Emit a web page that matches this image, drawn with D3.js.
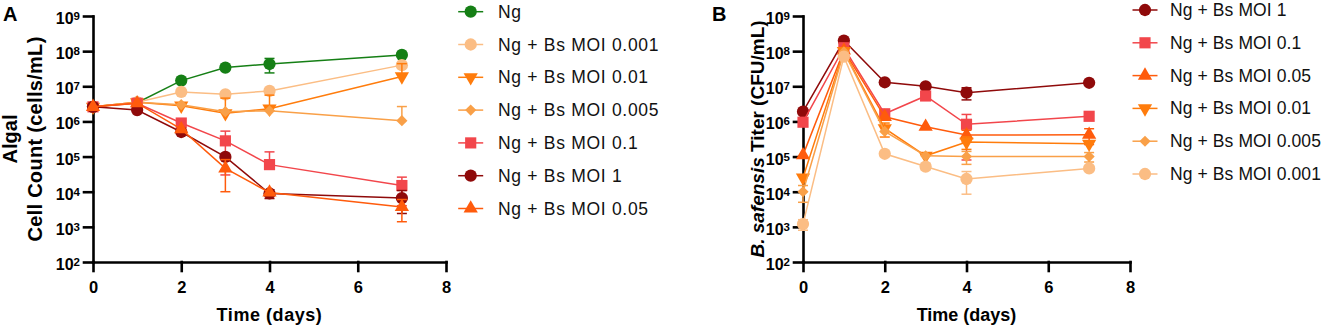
<!DOCTYPE html>
<html>
<head>
<meta charset="utf-8">
<script src="https://cdn.jsdelivr.net/npm/d3@7"></script>
<style>
  body { margin: 0; background: #fff; }
  svg { font-family: "Liberation Sans", Arial, sans-serif; }
</style>
</head>
<body>
<svg id="chart" width="1325" height="329"></svg>
<script>
// sampling days and axis ticks (shared by both panels)
const days = [0, 1, 2, 3, 4, 7];
const xTicks = [0, 2, 4, 6, 8];
const yTicks = [1e2, 1e3, 1e4, 1e5, 1e6, 1e7, 1e8, 1e9];

// Panel A - algal cell count (cells/mL), mean and SD per day
const algaeLabels = ["Ng", "Ng + Bs MOI 0.001", "Ng + Bs MOI 0.01", "Ng + Bs MOI 0.005",
  "Ng + Bs MOI 0.1", "Ng + Bs MOI 1", "Ng + Bs MOI 0.05"];
const algaeNg      = [2.6e6, 3.4e6, 1.45e7, 3.4e7, 4.3e7, 7.8e7];
const algaeMoi0001 = [2.6e6, 3.5e6, 6.9e6, 5.9e6, 7.4e6, 4.0e7];
const algaeMoi001  = [2.6e6, 3.5e6, 2.8e6, 1.7e6, 2.3e6, 1.9e7];
const algaeMoi0005 = [2.6e6, 3.5e6, 3.0e6, 1.9e6, 2.0e6, 1.05e6];
const algaeMoi01   = [2.6e6, 3.3e6, 9.0e5, 2.8e5, 5.9e4, 1.5e4];
const algaeMoi1    = [2.6e6, 2.1e6, 5.0e5, 9.8e4, 8.9e3, 6.6e3];
const algaeMoi005  = [2.6e6, 3.3e6, 6.0e5, 4.6e4, 9.5e3, 3.7e3];
const algaeSdNg      = [0, 0, 0, 0, 1.9e7, 0];
const algaeSdMoi0001 = [0, 0, 0, 0, 0, 5e6];
const algaeSdMoi001  = [0, 0, 0, 2.9e6, 3.3e6, 2.5e7];
const algaeSdMoi0005 = [0, 0, 0, 0, 0, 1.6e6];
const algaeSdMoi01   = [0, 0, 0, 2.5e5, 7.7e4, 1.1e4];
const algaeSdMoi1    = [0, 0, 0, 0, 2.5e3, 4.2e3];
const algaeSdMoi005  = [0, 0, 0, 3.6e4, 0, 2.3e3];

// Panel B - B. safensis titer (CFU/mL), mean and SD per day
const phageLabels = ["Ng + Bs MOI 1", "Ng + Bs MOI 0.1", "Ng + Bs MOI 0.05",
  "Ng + Bs MOI 0.01", "Ng + Bs MOI 0.005", "Ng + Bs MOI 0.001"];
const phageMoi1    = [1.9e6, 2.0e8, 1.3e7, 1.0e7, 6.6e6, 1.26e7];
const phageMoi01   = [9.5e5, 1.25e8, 1.65e6, 5.3e6, 8.3e5, 1.4e6];
const phageMoi005  = [1.1e5, 1.05e8, 1.35e6, 7.1e5, 4.1e5, 4.2e5];
const phageMoi001  = [2.5e4, 1.0e8, 6.3e5, 1.05e5, 2.6e5, 2.3e5];
const phageMoi0005 = [1.0e4, 9.5e7, 5.2e5, 1.05e5, 1.0e5, 1.0e5];
const phageMoi0001 = [1.2e3, 7.0e7, 1.2e5, 5.2e4, 2.3e4, 4.6e4];
const phageSdMoi1    = [0, 0, 0, 0, 2.5e6, 0];
const phageSdMoi01   = [0, 0, 0, 0, 7.5e5, 0];
const phageSdMoi005  = [0, 0, 0, 0, 1.5e5, 2e5];
const phageSdMoi001  = [0, 0, 2.7e5, 0, 1e5, 0];
const phageSdMoi0005 = [5e3, 0, 0, 0, 4e4, 3e4];
const phageSdMoi0001 = [4e2, 0, 2e4, 1e4, 1.45e4, 0];

// look per treatment
const styles = {
  "Ng":                { color: "#157f15", shape: "circle" },
  "Ng + Bs MOI 0.001": { color: "#fbbd84", shape: "circle" },
  "Ng + Bs MOI 0.01":  { color: "#ff7c0c", shape: "down" },
  "Ng + Bs MOI 0.005": { color: "#f9a048", shape: "diamond" },
  "Ng + Bs MOI 0.1":   { color: "#f2464b", shape: "square" },
  "Ng + Bs MOI 1":     { color: "#8f0a0a", shape: "circle" },
  "Ng + Bs MOI 0.05":  { color: "#ff5b0c", shape: "up" }
};

function symbolPath(shape) {
  if (shape === "square") return d3.symbol(d3.symbolSquare, 125)();
  if (shape === "diamond") return d3.symbol(d3.symbolSquare, 62)();
  if (shape === "up" || shape === "down") return d3.symbol(d3.symbolTriangle, 88)();
  return d3.symbol(d3.symbolCircle, 118)();
}
function symbolRotate(shape) {
  if (shape === "down") return " rotate(180)";
  if (shape === "diamond") return " rotate(45)";
  return "";
}

const svg = d3.select("#chart");

function drawPanel(cfg) {
  const x = d3.scaleLinear().domain([0, 8]).range([cfg.left, cfg.right]);
  const y = d3.scaleLog().domain([1e2, 1e9]).range([262, 16]);
  const g = svg.append("g");

  // axes
  const yAxis = g.append("g")
    .attr("transform", `translate(${cfg.left},0)`)
    .call(d3.axisLeft(y).tickValues(yTicks).tickSize(9).tickSizeOuter(0).tickFormat(""));
  const xAxis = g.append("g")
    .attr("transform", `translate(0,${y(1e2)})`)
    .call(d3.axisBottom(x).tickValues(xTicks).tickSize(9).tickSizeOuter(0).tickPadding(10.5));
  [yAxis, xAxis].forEach(a => {
    a.selectAll("path, line").attr("stroke", "#000").attr("stroke-width", 2.6).attr("stroke-linecap", "square");
  });
  xAxis.selectAll("text").attr("font-size", 16.5).attr("font-weight", "bold").attr("fill", "#000")
    .attr("font-family", "'Liberation Sans', Arial, sans-serif");

  // 10^n labels
  yTicks.forEach(v => {
    const t = g.append("text")
      .attr("x", cfg.left - 13).attr("y", y(v) + 8)
      .attr("text-anchor", "end").attr("font-weight", "bold");
    t.append("tspan").attr("font-size", 16).text("10");
    t.append("tspan").attr("font-size", 11.5).attr("dy", -4).text(Math.round(Math.log10(v)));
  });

  // titles
  g.append("text")
    .attr("x", (cfg.left + cfg.right) / 2).attr("y", 321)
    .attr("text-anchor", "middle").attr("font-size", 18).attr("font-weight", "bold")
    .attr("letter-spacing", cfg.xTitleSpacing)
    .text("Time (days)");
  cfg.yTitle(g, y);
  g.append("text")
    .attr("x", cfg.letterX).attr("y", 21)
    .attr("font-size", 20).attr("font-weight", "bold")
    .text(cfg.letter);

  const line = d3.line().x(d => x(d.day)).y(d => y(d.value));

  cfg.series.forEach(s => {
    const st = styles[s.label];
    const pts = days.map((day, i) => ({ day: day, value: s.values[i], sd: s.sd[i] }));
    const sg = g.append("g");

    sg.append("path").datum(pts)
      .attr("d", line).attr("fill", "none")
      .attr("stroke", st.color).attr("stroke-width", 1.5);

    // error bars (lower half dropped when it would go below zero)
    pts.filter(p => p.sd > 0).forEach(p => {
      const px = x(p.day);
      const yHi = y(p.value + p.sd);
      const lo = p.value - p.sd;
      const yLo = lo > 0 ? y(lo) : y(p.value);
      sg.append("line").attr("x1", px).attr("x2", px).attr("y1", yHi).attr("y2", yLo)
        .attr("stroke", st.color).attr("stroke-width", 1.5);
      sg.append("line").attr("x1", px - 5).attr("x2", px + 5).attr("y1", yHi).attr("y2", yHi)
        .attr("stroke", st.color).attr("stroke-width", 1.5);
      if (lo > 0) {
        sg.append("line").attr("x1", px - 5).attr("x2", px + 5).attr("y1", yLo).attr("y2", yLo)
          .attr("stroke", st.color).attr("stroke-width", 1.5);
      }
    });

    sg.selectAll(".pt").data(pts).enter().append("path")
      .attr("class", "pt")
      .attr("d", symbolPath(st.shape))
      .attr("transform", d => `translate(${x(d.day)},${y(d.value)})${symbolRotate(st.shape)}`)
      .attr("fill", st.color);
  });

  // legend
  cfg.series.forEach((s, i) => {
    const st = styles[s.label];
    const ly = cfg.legendY + i * 32.8;
    const lg = g.append("g");
    lg.append("line")
      .attr("x1", cfg.legendX - 12.5).attr("x2", cfg.legendX + 12.5)
      .attr("y1", ly).attr("y2", ly)
      .attr("stroke", st.color).attr("stroke-width", 1.5);
    lg.append("path")
      .attr("d", symbolPath(st.shape))
      .attr("transform", `translate(${cfg.legendX},${ly})${symbolRotate(st.shape)}`)
      .attr("fill", st.color);
    lg.append("text")
      .attr("x", cfg.legendX + cfg.textOffset).attr("y", ly + 6)
      .attr("font-size", 17.5).attr("letter-spacing", cfg.legendSpacing)
      .attr("fill", "#111")
      .text(s.label);
  });
}

drawPanel({
  letter: "A", letterX: 3,
  left: 93, right: 446,
  legendX: 470.7, legendY: 11.7, textOffset: 27.3, legendSpacing: 0.7,
  xTitleSpacing: 0.55,
  series: [
    { label: algaeLabels[0], values: algaeNg, sd: algaeSdNg },
    { label: algaeLabels[1], values: algaeMoi0001, sd: algaeSdMoi0001 },
    { label: algaeLabels[2], values: algaeMoi001, sd: algaeSdMoi001 },
    { label: algaeLabels[3], values: algaeMoi0005, sd: algaeSdMoi0005 },
    { label: algaeLabels[4], values: algaeMoi01, sd: algaeSdMoi01 },
    { label: algaeLabels[5], values: algaeMoi1, sd: algaeSdMoi1 },
    { label: algaeLabels[6], values: algaeMoi005, sd: algaeSdMoi005 }
  ],
  yTitle: (g, y) => {
    const yc = (y(1e2) + y(1e9)) / 2;
    g.append("text")
      .attr("transform", `translate(17,${yc}) rotate(-90)`)
      .attr("text-anchor", "middle").attr("font-size", 20).attr("font-weight", "bold")
      .text("Algal");
    g.append("text")
      .attr("transform", `translate(42,${yc}) rotate(-90)`)
      .attr("text-anchor", "middle").attr("font-size", 20).attr("font-weight", "bold")
      .attr("letter-spacing", 0.3)
      .text("Cell Count (cells/mL)");
  }
});

drawPanel({
  letter: "B", letterX: 712,
  left: 803, right: 1130,
  legendX: 1145, legendY: 10, textOffset: 25, legendSpacing: 0.1,
  xTitleSpacing: 0,
  series: [
    { label: phageLabels[0], values: phageMoi1, sd: phageSdMoi1 },
    { label: phageLabels[1], values: phageMoi01, sd: phageSdMoi01 },
    { label: phageLabels[2], values: phageMoi005, sd: phageSdMoi005 },
    { label: phageLabels[3], values: phageMoi001, sd: phageSdMoi001 },
    { label: phageLabels[4], values: phageMoi0005, sd: phageSdMoi0005 },
    { label: phageLabels[5], values: phageMoi0001, sd: phageSdMoi0001 }
  ],
  yTitle: (g, y) => {
    const yc = (y(1e2) + y(1e9)) / 2;
    const t = g.append("text")
      .attr("transform", `translate(764,${yc}) rotate(-90)`)
      .attr("text-anchor", "middle").attr("font-size", 19).attr("font-weight", "bold");
    t.append("tspan").attr("font-style", "italic").text("B. safensis");
    t.append("tspan").text(" Titer (CFU/mL)");
  }
});
</script>
</body>
</html>
